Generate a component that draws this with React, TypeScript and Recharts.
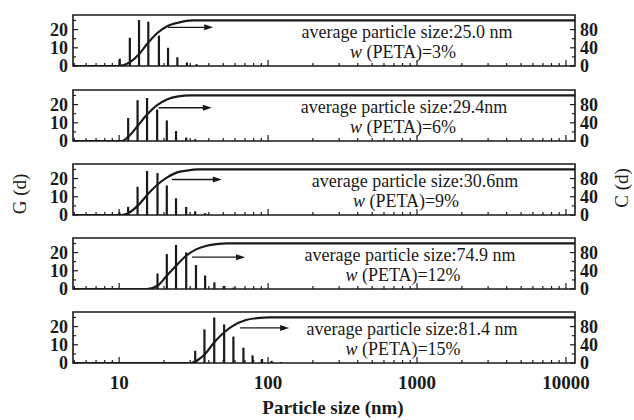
import { ComposedChart, Bar, Line, XAxis, YAxis, ReferenceArea, ReferenceLine } from "recharts";

// particle size (nm) of each histogram bin and its G(d) value, per panel
const size1 = [10.1, 11.8, 13.6, 15.7, 18.5, 21.3, 24.6, 28.5, 33.1];
const g1 = [4, 15.5, 25.2, 24.3, 16.7, 10, 4.8, 2, 1];
const size2 = [11.5, 13.3, 15.4, 18.0, 20.9, 24.1, 28.2, 32.4];
const g2 = [12.6, 22.4, 23.6, 17.3, 11.3, 5.5, 1.9, 1];
const size3 = [10.05, 11.5, 13.3, 15.4, 18.1, 20.9, 24.1, 28.2, 32.4, 37.8];
const g3 = [1.5, 4.5, 15.5, 24.2, 23, 16.2, 9.2, 4.4, 2, 1];
const size4 = [18.1, 20.9, 24.1, 28.2, 32.8, 37.8, 43.6, 50.8, 58.7];
const g4 = [8.5, 19.2, 24.2, 20.1, 13.1, 7.4, 3.6, 1.7, 0.8];
const size5 = [32.4, 37.4, 43.5, 50.7, 58.5, 68.3, 78.7, 91.1, 105.6, 122.2];
const g5 = [6.7, 18.5, 25, 21.2, 14.5, 8.4, 4.2, 2.2, 1.2, 0.5];

// cumulative C(d) curve, per panel
const cumD1 = [4.9, 9.85, 11.76, 13.6, 15.65, 18.13, 21.16, 24.9, 30.9, 11500];
const cumC1 = [0, 0, 8, 26, 51, 73, 88, 95, 100, 100];
const cumD2 = [4.9, 10.4, 11.5, 13.3, 15.4, 17.9, 20.9, 25, 29.9, 11500];
const cumC2 = [0, 0, 9, 33, 58, 78, 91, 98, 100, 100];
const cumD3 = [4.9, 10.3, 11.5, 13.3, 15.4, 18.1, 20.9, 24.3, 28.4, 33.9, 11500];
const cumC3 = [0, 0, 4, 20, 44, 67, 82, 93, 97.5, 100, 100];
const cumD4 = [4.9, 15.4, 18.1, 20.9, 24.1, 28.2, 32.9, 38.7, 45, 52.8, 11500];
const cumC4 = [0, 0, 7, 29, 51, 73, 87, 95, 98.5, 100, 100];
const cumD5 = [4.9, 30.4, 34.9, 37.8, 43.4, 50.6, 58.4, 70.1, 84.2, 103.4, 11500];
const cumC5 = [0, 0, 10, 20, 45, 67, 82, 94, 98.5, 100, 100];

// arrows pointing to the C(d) axis: [from d, to d, at C]
const arrows = [
  [21.3, 42.8, 85],
  [18.4, 41.9, 73],
  [22.6, 48.9, 78],
  [30.8, 70.1, 70],
  [64.8, 138.4, 77],
];

const avgSizes = ["25.0 nm", "29.4nm", "30.6nm", "74.9 nm", "81.4 nm"];
const petaShares = ["3%", "6%", "9%", "12%", "15%"];

const xTicks = [5, 6, 7, 8, 9, 10, 20, 30, 40, 50, 60, 70, 80, 90, 100, 200, 300, 400, 500, 600, 700, 800, 900,
  1000, 2000, 3000, 4000, 5000, 6000, 7000, 8000, 9000, 10000];
const xMajor = [10, 100, 1000, 10000];
const gTicks = [0, 5, 10, 15, 20, 25];
const gLabels = [0, 10, 20];
const cTicks = [0, 20, 40, 60, 80, 100];
const cLabels = [0, 40, 80];

const X_DOMAIN = [4.9, 11500];
const G_MAX = 28;
const C_MAX = 112;

const font = "'Liberation Serif', 'Times New Roman', serif";
const ink = "#1a1a1a";

const panelTops = [15, 89.5, 164, 238, 312];
const PLOT_H = 51;
const line1X = [407, 404, 415, 410, 412];
const line2X = [403, 403, 406, 403, 403];

const panels = [
  { size: size1, g: g1, cd: cumD1, cc: cumC1 },
  { size: size2, g: g2, cd: cumD2, cc: cumC2 },
  { size: size3, g: g3, cd: cumD3, cc: cumC3 },
  { size: size4, g: g4, cd: cumD4, cc: cumC4 },
  { size: size5, g: g5, cd: cumD5, cc: cumC5 },
];

function XTick(props: any) {
  const { x, y, payload, showLabel } = props;
  const major = xMajor.includes(payload.value);
  return (
    <g>
      <line x1={x} y1={y} x2={x} y2={y - (major ? 6 : 3)} stroke={ink} strokeWidth={1.2} />
      {showLabel && major && (
        <text x={x} y={y + 19} dy="0.35em" textAnchor="middle" fontFamily={font} fontSize={19} fontWeight="bold" fill={ink}>
          {payload.value}
        </text>
      )}
    </g>
  );
}

function LeftTick(props: any) {
  const { x, y, payload } = props;
  const major = gLabels.includes(payload.value);
  return (
    <g>
      <line x1={x} y1={y} x2={x + (major ? 5 : 3)} y2={y} stroke={ink} strokeWidth={1.2} />
      {major && (
        <text x={x - 5} y={y} dy="0.35em" textAnchor="end" fontFamily={font} fontSize={18} fontWeight="bold" fill={ink}>
          {payload.value}
        </text>
      )}
    </g>
  );
}

function RightTick(props: any) {
  const { x, y, payload } = props;
  const major = cLabels.includes(payload.value);
  return (
    <g>
      <line x1={x} y1={y} x2={x - (major ? 5 : 3)} y2={y} stroke={ink} strokeWidth={1.2} />
      {major && (
        <text x={x + 5} y={y} dy="0.35em" textAnchor="start" fontFamily={font} fontSize={18} fontWeight="bold" fill={ink}>
          {payload.value}
        </text>
      )}
    </g>
  );
}

function Arrow(props: any) {
  const { x1, y1, x2, y2 } = props;
  return (
    <g>
      <line x1={x1} y1={y1} x2={x2 - 6} y2={y2} stroke={ink} strokeWidth={1.3} />
      <polygon points={`${x2},${y2} ${x2 - 9},${y2 - 3} ${x2 - 9},${y2 + 3}`} fill={ink} />
    </g>
  );
}

function Stick(props: any) {
  const { x, y, width, height } = props;
  if (!height || height <= 0) return null;
  const cx = x + width / 2;
  return <rect x={cx - 1.1} y={y} width={2.2} height={height} fill={ink} />;
}

function Panel({ index }: { index: number }) {
  const p = panels[index];
  const last = index === panels.length - 1;
  const axisH = last ? 34 : 10;
  const bars = p.size.map((d, i) => ({ d, g: p.g[i] }));
  const curve = p.cd.map((d, i) => ({ d, c: p.cc[i] }));
  const [a0, a1, ay] = arrows[index];

  return (
    <div style={{ position: "absolute", left: 0, top: panelTops[index] - 8 }}>
      <ComposedChart
        width={634}
        height={8 + PLOT_H + axisH}
        data={bars}
        margin={{ top: 8, right: 19, bottom: 0, left: 33 }}
      >
        <XAxis
          dataKey="d"
          type="number"
          scale="log"
          domain={X_DOMAIN}
          allowDataOverflow
          ticks={xTicks}
          interval={0}
          height={axisH}
          tickSize={0}
          tickMargin={0}
          axisLine={false}
          tickLine={false}
          tick={<XTick showLabel={last} />}
        />
        <YAxis
          yAxisId="left"
          domain={[0, G_MAX]}
          allowDataOverflow
          ticks={gTicks}
          interval={0}
          width={40}
          tickSize={0}
          tickMargin={0}
          axisLine={false}
          tickLine={false}
          tick={<LeftTick />}
        />
        <YAxis
          yAxisId="right"
          orientation="right"
          domain={[0, C_MAX]}
          allowDataOverflow
          ticks={cTicks}
          interval={0}
          width={40}
          tickSize={0}
          tickMargin={0}
          axisLine={false}
          tickLine={false}
          tick={<RightTick />}
        />
        <Bar yAxisId="left" dataKey="g" barSize={2} fill={ink} shape={<Stick />} isAnimationActive={false} />
        <Line
          yAxisId="right"
          data={curve}
          dataKey="c"
          type="monotone"
          stroke={ink}
          strokeWidth={2.2}
          dot={false}
          activeDot={false}
          isAnimationActive={false}
        />
        <ReferenceLine
          yAxisId="right"
          segment={[{ x: a0, y: ay }, { x: a1, y: ay }]}
          shape={<Arrow />}
        />
        <ReferenceArea
          yAxisId="left"
          x1={X_DOMAIN[0]}
          x2={X_DOMAIN[1]}
          y1={0}
          y2={G_MAX}
          fill="none"
          fillOpacity={0}
          stroke={ink}
          strokeWidth={1.6}
        />
      </ComposedChart>
    </div>
  );
}

export default function App() {
  return (
    <div style={{ position: "absolute", left: 0, top: 0, width: 634, height: 420, background: "#fff" }}>
      {panels.map((_, i) => (
        <Panel key={i} index={i} />
      ))}
      <svg
        width={634}
        height={420}
        style={{ position: "absolute", left: 0, top: 0, pointerEvents: "none" }}
        fontFamily={font}
        fill={ink}
      >
        {panelTops.map((top, i) => (
          <g key={i}>
            <text x={line1X[i]} y={top + 17} dy="0.35em" textAnchor="middle" fontSize={18}>
              average particle size:{avgSizes[i]}
            </text>
            <text x={line2X[i]} y={top + 37} dy="0.35em" textAnchor="middle" fontSize={18}>
              <tspan fontStyle="italic">w</tspan> (PETA)={petaShares[i]}
            </text>
          </g>
        ))}
        <text transform="translate(19,194) rotate(-90)" dy="0.35em" textAnchor="middle" fontSize={19}>
          G (d)
        </text>
        <text transform="translate(621,188) rotate(-90)" dy="0.35em" textAnchor="middle" fontSize={19}>
          C (d)
        </text>
        <text x={333} y={407} dy="0.35em" textAnchor="middle" fontSize={19} fontWeight="bold">
          Particle size (nm)
        </text>
      </svg>
    </div>
  );
}
